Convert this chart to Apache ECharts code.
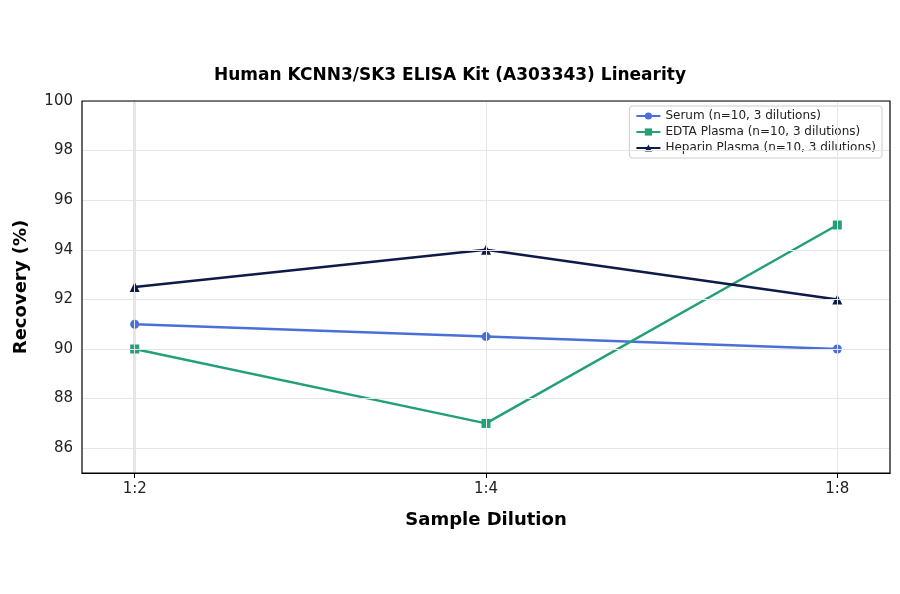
<!DOCTYPE html>
<html><head><meta charset="utf-8">
<script src="https://cdn.jsdelivr.net/npm/echarts@6/dist/echarts.min.js"></script>
<style>html,body{margin:0;padding:0;background:#fff}#c{width:900px;height:594px}</style>
</head><body><div id="c"></div>
<script>
const categories = ['1:2', '1:4', '1:8'];
const serum = [91, 90.5, 90];
const edta = [90, 87, 95];
const heparin = [92.5, 94, 92];
const yTicks = [86, 88, 90, 92, 94, 96, 98, 100];

const chart = echarts.init(document.getElementById('c'));
const font = 'DejaVu Sans';
function mk(name, data, color, symbol, size) {
  return {name, type: 'line', data: data.map((v, i) => [i, v]), color,
    symbol, symbolSize: size, lineStyle: {width: 2.5, color}, itemStyle: {color}};
}
const s = [
  mk('Serum (n=10, 3 dilutions)', serum, '#4a6fd8', 'circle', 9),
  mk('EDTA Plasma (n=10, 3 dilutions)', edta, '#23a07a', 'rect', 9),
  mk('Heparin Plasma (n=10, 3 dilutions)', heparin, '#0e1a48', 'triangle', 10)
];
s[0].markLine = {silent: true, symbol: 'none', label: {show: false},
  lineStyle: {color: '#e6e6e6', type: 'solid', width: 1},
  data: categories.map((c, i) => ({xAxis: i}))};
s[0].z = 1;
chart.setOption({
  animation: false,
  textStyle: {fontFamily: font},
  title: {text: 'Human KCNN3/SK3 ELISA Kit (A303343) Linearity', left: 'center', top: 62,
    textStyle: {fontSize: 17, fontWeight: 'bold', color: '#000', fontFamily: font}},
  grid: {left: 82, right: 10, top: 101, bottom: 121},
  legend: {right: 18, top: 106, orient: 'vertical', itemGap: 4, itemWidth: 24, itemHeight: 9,
    backgroundColor: '#fff', borderColor: '#ccc', borderWidth: 1, borderRadius: 3, padding: [4, 6],
    textStyle: {fontSize: 12, color: '#222', fontFamily: font}},
  xAxis: {type: 'value', min: -0.15, max: 2.15,
    name: 'Sample Dilution', nameLocation: 'middle', nameGap: 38,
    nameTextStyle: {fontSize: 18, fontWeight: 'bold', color: '#000', fontFamily: font},
    axisLine: {lineStyle: {color: '#000', width: 1.2}},
    axisTick: {customValues: [0, 1, 2], length: 5, lineStyle: {color: '#000'}},
    axisLabel: {customValues: [0, 1, 2], formatter: v => categories[Math.round(v)],
      fontSize: 15, color: '#222', margin: 9},
    splitLine: {show: false}},
  yAxis: {type: 'value', min: 85, max: 100, interval: 1,
    name: 'Recovery (%)', nameLocation: 'middle', nameGap: 52,
    nameTextStyle: {fontSize: 18, fontWeight: 'bold', color: '#000', fontFamily: font},
    axisLine: {show: true, lineStyle: {color: '#000', width: 1.2}},
    axisTick: {customValues: yTicks, length: 5, lineStyle: {color: '#000'}},
    axisLabel: {customValues: yTicks, fontSize: 15, color: '#222', margin: 9},
    splitLine: {show: false}},
  graphic: [{type: 'rect', shape: {x: 82, y: 101, width: 808, height: 372},
    style: {fill: 'none', stroke: '#000', lineWidth: 1.2}, silent: true, z: 10}],
  series: s
});
// horizontal grid lines
s[1].markLine = {silent: true, symbol: 'none', label: {show: false},
  lineStyle: {color: '#e6e6e6', type: 'solid', width: 1},
  data: yTicks.map(v => ({yAxis: v}))};
s[1].z = 2;
chart.setOption({series: s});
</script></body></html>
